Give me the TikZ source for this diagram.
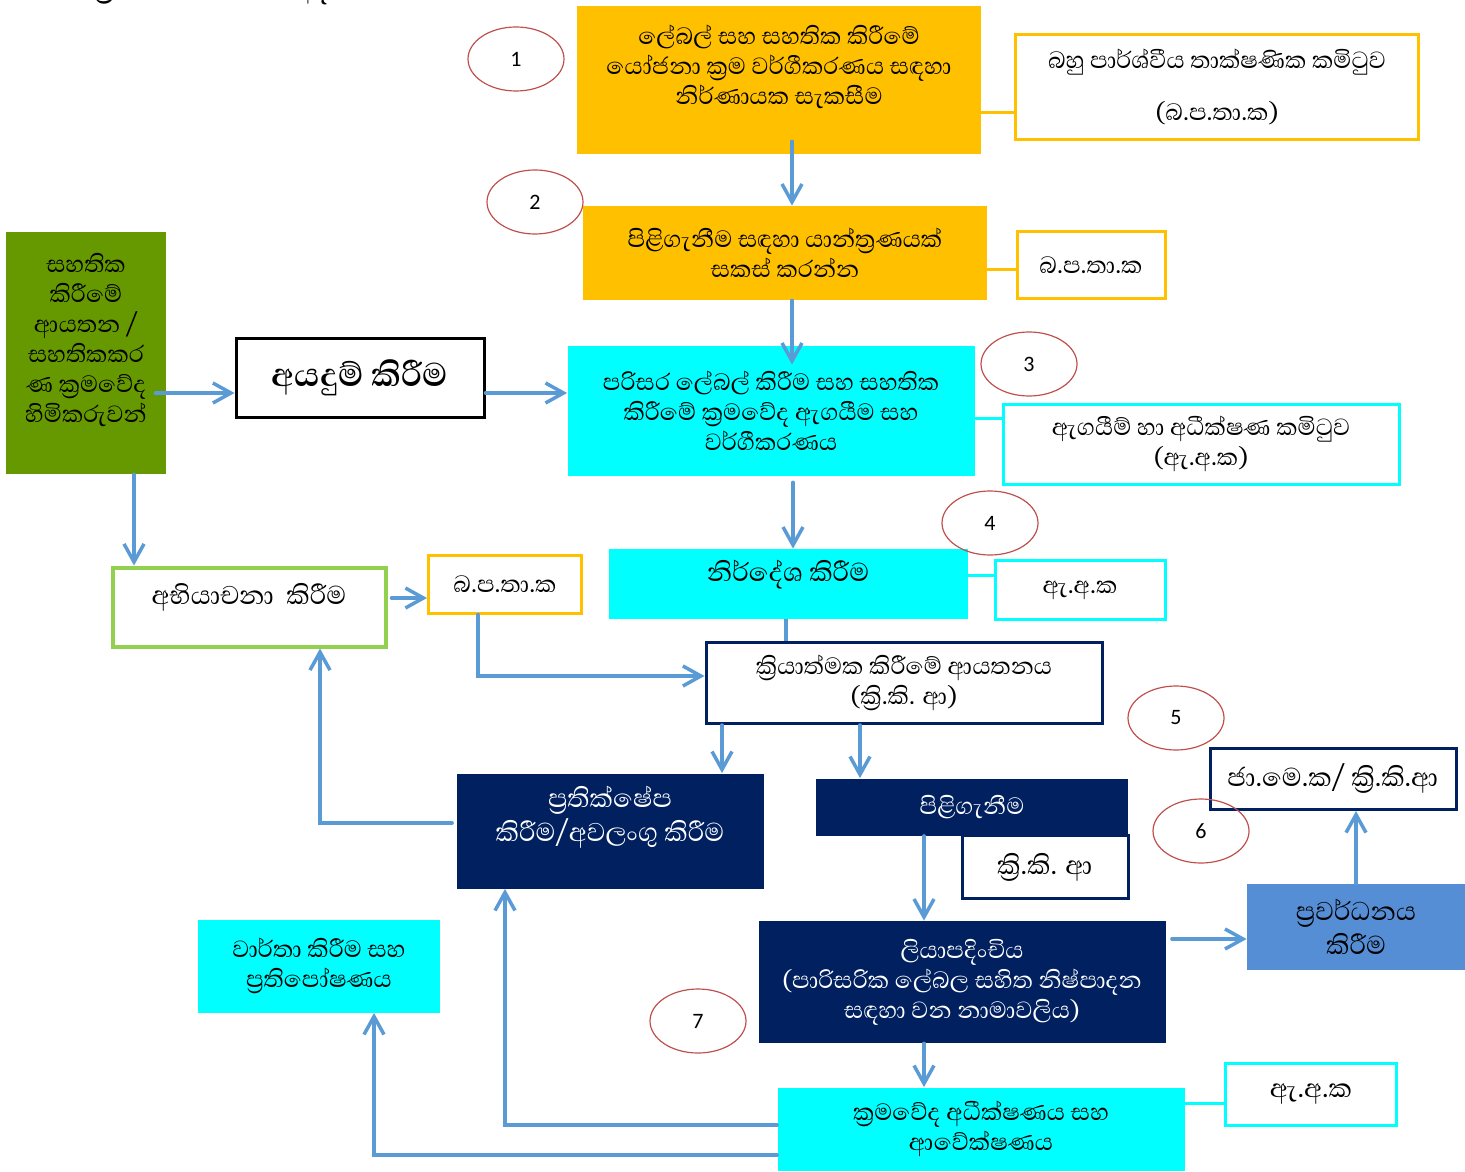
\documentclass[tikz,border=0pt]{standalone}
\usepackage{fontspec}
\setmainfont{Carlito}
\newfontfamily\snh[Script=Sinhala]{Abhaya Libre}
\usetikzlibrary{shapes.geometric,arrows.meta,calc}

\definecolor{orng}{HTML}{FFC000}
\definecolor{aqua}{HTML}{00FFFF}
\definecolor{leaf}{HTML}{669900}
\definecolor{lime}{HTML}{92D050}
\definecolor{navy}{HTML}{002060}
\definecolor{flowblue}{HTML}{5B9BD5}
\definecolor{promoblue}{HTML}{558ED5}
\definecolor{ellred}{HTML}{C0504D}

\newcommand{\zj}{^^^^200d}

\begin{document}
\begin{tikzpicture}[x=0.5pt,y=-0.5pt,
  every node/.style={font=\snh\fontsize{15}{15}\selectfont, align=center},
  sz/.style 2 args={minimum width=#1*0.5pt, minimum height=#2*0.5pt, inner sep=0pt},
  goldfill/.style={fill=orng},
  goldline/.style={draw=orng, line width=1.5pt, fill=white},
  aquafill/.style={fill=aqua},
  aqualine/.style={draw=aqua, line width=1.5pt, fill=white},
  navyfill/.style={fill=navy, text=white},
  navyline/.style={draw=navy, line width=1.5pt, fill=white},
  big/.style={font=\snh\fontsize{16.5}{17}\selectfont},
  stage/.style={ellipse, draw=ellred, line width=0.6pt, minimum width=48pt, minimum height=32pt,
    inner sep=0pt, font=\fontsize{11}{13}\selectfont},
  flow/.style={draw=flowblue, line width=1.75pt, line cap=round,
    -{Straight Barb[length=9pt,width=10pt,line width=1.75pt]}},
  link/.style={draw=flowblue, line width=1.75pt},
  goldlink/.style={draw=orng, line width=1.5pt},
  aqualink/.style={draw=aqua, line width=1.5pt}]
  \useasboundingbox (0,0) rectangle (1465,1171);

  % heading, cut by the top edge
  \node[font=\snh\bfseries\fontsize{16}{17}\selectfont, anchor=south west, inner sep=0pt] (title) at (92,5)
    {ක්\zj රියාත්මක කිරීමේ අදියර:};

  % boxes
  \node[goldfill, sz={404}{148}] (plan) at (779,80)
    {ලේබල් සහ සහතික කිරීමේ\\යෝජනා ක්\zj රම වර්ගීකරණය සඳහා\\නිර්ණායක සැකසීම\\~};
  \node[goldline, sz={403}{105}] (mtc) at (1217,87)
    {බහු පාර්ශ්වීය තාක්ෂණික කමිටුව\\[11pt](බ.ප.තා.ක)};
  \node[goldfill, sz={404}{94}] (mech) at (785,253)
    {පිළිගැනීම සඳහා යාන්ත්\zj රණයක්\\සකස් කරන්න};
  \node[goldline, sz={148}{67}] (mtc2) at (1091,265) {බ.ප.තා.ක};
  \node[fill=leaf, sz={160}{242}] (inst) at (86,353)
    {සහතික\\කිරීමේ\\ආයතන /\\සහතිකකර\\ණ ක්\zj රමවේද\\හිමිකරුවන්\\~};
  \node[draw=black, line width=1.5pt, fill=white, sz={248}{78},
    font=\snh\bfseries\fontsize{21}{22}\selectfont] (apply) at (360,378) {අයදුම් කිරීම};
  \node[aquafill, sz={407}{130}] (eval) at (771,411)
    {පරිසර ලේබල් කිරීම සහ සහතික\\කිරීමේ ක්\zj රමවේද ඇගයීම සහ\\වර්ගීකරණය};
  \node[aqualine, sz={396}{80}] (etc) at (1201,444)
    {ඇගයීම් හා අධීක්ෂණ කමිටුව\\(ඇ.අ.ක)};
  \node[aquafill, sz={359}{70}, big] (recom) at (788,584) {නිර්දේශ කිරීම\\[-4pt]~};
  \node[aqualine, sz={170}{59}] (etc2) at (1080,590) {ඇ.අ.ක};
  \node[draw=lime, line width=2pt, fill=white, sz={273}{79}, big] (appeal) at (249,607)
    {අභියාචනා\ \ කිරීම\\[-4pt]~};
  \node[goldline, sz={153}{58}] (mtc3) at (505,584) {බ.ප.තා.ක};
  \node[navyline, sz={396}{81}] (impl) at (904,683)
    {ක්\zj රියාත්මක කිරීමේ ආයතනය\\(ක්\zj රි.කි. ආ)};
  \node[navyfill, sz={307}{115}, big] (reject) at (610,831)
    {ප්\zj රතික්ෂේප\\කිරීම/අවලංගු කිරීම\\~};
  \node[navyfill, sz={312}{57}] (accept) at (972,807) {පිළිගැනීම};
  \node[navyline, sz={166}{63}, big] (impl2) at (1045,867) {ක්\zj රි.කි. ආ};
  \node[navyline, sz={246}{61}, big] (natc) at (1333,779) {ජා.මෙ.ක/ ක්\zj රි.කි.ආ};
  \node[fill=promoblue, sz={218}{86}, big] (promo) at (1356,927) {ප්\zj රවර්ධනය\\කිරීම};
  \node[navyfill, sz={407}{122}] (reg) at (962,982)
    {ලියාපදිංචිය\\(පාරිසරික ලේබල සහිත නිෂ්පාදන\\සඳහා වන නාමාවලිය)};
  \node[aquafill, sz={242}{93}] (report) at (319,966) {වාර්තා කිරීම සහ\\ප්\zj රතිපෝෂණය};
  \node[aquafill, sz={407}{83}] (monit) at (981,1129) {ක්\zj රමවේද අධීක්ෂණය සහ\\ආවේක්ෂණය};
  \node[aqualine, sz={171}{62}, big] (etc3) at (1311,1094) {ඇ.අ.ක};

  % stage numbers
  \node[stage] (s1) at (516,59) {1};
  \node[stage] (s2) at (535,202) {2};
  \node[stage] (s3) at (1029,364) {3};
  \node[stage] (s4) at (990,523) {4};
  \node[stage] (s5) at (1176,718) {5};
  \node[stage] (s6) at (1201,831) {6};
  \node[stage] (s7) at (698,1021) {7};

  % committee links
  \draw[goldlink] ($(plan.east)+(0,33)$) -- ($(mtc.west |- plan.east)+(0,33)$);
  \draw[goldlink] ($(mech.east)+(0,17)$) -- ($(mtc2.west |- mech.east)+(0,17)$);
  \draw[aqualink] ($(eval.east)+(0,7)$) -- ($(etc.west |- eval.east)+(0,7)$);
  \draw[aqualink] ($(recom.east)+(0,-9)$) -- ($(etc2.west |- recom.east)+(0,-9)$);
  \draw[aqualink] ($(monit.east)+(0,-26)$) -- ($(etc3.west |- monit.east)+(0,-26)$);

  % flow
  \draw[flow] ($(plan.south)+(13,-13)$) -- ($(plan.south |- mech.north)+(13,0)$);
  \draw[flow] ($(mech.south)+(7,0)$) -- ($(eval.north)+(21,19)$);
  \draw[flow] ($(inst.east |- apply.west)+(-11,15)$) -- ($(apply.west)+(0,15)$);
  \draw[flow] ($(apply.east)+(0,15)$) -- ($(eval.west |- apply.east)+(0,15)$);
  \draw[flow] ($(inst.south)+(48,0)$) -- ($(inst.south |- appeal.north)+(48,0)$);
  \draw[flow] ($(eval.south)+(22,6)$) -- ($(eval.south |- recom.north)+(22,0)$);
  \draw[link] ($(recom.south)+(-2,0)$) -- ($(recom.south |- impl.north)+(-2,0)$);
  \draw[flow] ($(appeal.east)+(4,-9)$) -- ($(mtc3.west |- appeal.east)+(0,-9)$);
  \draw[flow] ($(mtc3.south)+(-27,0)$) |- ($(impl.west)+(0,-7)$);
  \draw[flow] ($(impl.south -| reject.north)+(112,0)$) -- ($(reject.north)+(112,0)$);
  \draw[flow] ($(impl.south -| accept.north)+(-112,0)$) -- ($(accept.north)+(-112,0)$);
  \draw[flow] ($(reject.west)+(-4,-8)$) -| ($(appeal.south)+(71,0)$);
  \draw[flow] ($(accept.south)+(-48,0)$) -- ($(accept.south |- reg.north)+(-48,0)$);
  \draw[flow] ($(reg.east)+(6,-43)$) -- ($(promo.west |- reg.east)+(0,-43)$);
  \draw[flow] (promo.north) -- (promo.north |- natc.south);
  \draw[flow] ($(reg.south)+(-38,0)$) -- ($(reg.south |- monit.north)+(-38,0)$);
  \draw[flow] ($(monit.west)+(0,-4)$) -| ($(reject.south)+(-105,0)$);
  \draw[flow] ($(monit.west)+(0,26)$) -| ($(report.south)+(55,0)$);
\end{tikzpicture}
\end{document}
